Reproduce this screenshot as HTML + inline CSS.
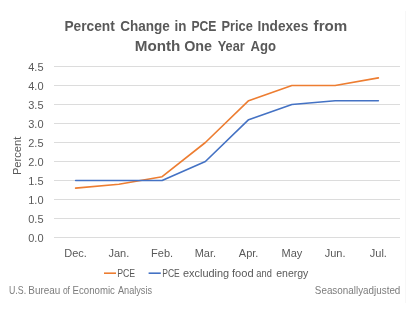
<!DOCTYPE html>
<html><head><meta charset="utf-8"><style>
html,body{margin:0;padding:0;background:#fff;}
body{width:411px;height:309px;overflow:hidden;}
svg{display:block;will-change:transform;font-family:"Liberation Sans",sans-serif;}
</style></head><body>
<svg width="411" height="309" viewBox="0 0 411 309">
<rect width="411" height="309" fill="#fff"/>
<line x1="405.5" x2="405.5" y1="11" y2="303" stroke="#F7F7F7" stroke-width="1"/>
<g fill="#595959" font-weight="bold" font-size="14">
<text x="64.42" y="31.2" textLength="50.43" lengthAdjust="spacingAndGlyphs">Percent</text>
<text x="120.23" y="31.2" textLength="49.60" lengthAdjust="spacingAndGlyphs">Change</text>
<text x="174.55" y="31.2" textLength="11.89" lengthAdjust="spacingAndGlyphs">in</text>
<text x="191.43" y="31.2" textLength="24.96" lengthAdjust="spacingAndGlyphs">PCE</text>
<text x="221.48" y="31.2" textLength="31.34" lengthAdjust="spacingAndGlyphs">Price</text>
<text x="257.42" y="31.2" textLength="50.91" lengthAdjust="spacingAndGlyphs">Indexes</text>
<text x="313.60" y="31.2" textLength="33.61" lengthAdjust="spacingAndGlyphs">from</text>
<text x="134.71" y="51.2" textLength="45.66" lengthAdjust="spacingAndGlyphs">Month</text>
<text x="184.18" y="51.2" textLength="27.86" lengthAdjust="spacingAndGlyphs">One</text>
<text x="217.80" y="51.2" textLength="27.03" lengthAdjust="spacingAndGlyphs">Year</text>
<text x="250.50" y="51.2" textLength="25.50" lengthAdjust="spacingAndGlyphs">Ago</text>
</g>
<g stroke="#DCDCDC" stroke-width="1"><line x1="54" x2="400" y1="237.50" y2="237.50"/><line x1="54" x2="400" y1="218.50" y2="218.50"/><line x1="54" x2="400" y1="199.50" y2="199.50"/><line x1="54" x2="400" y1="180.50" y2="180.50"/><line x1="54" x2="400" y1="161.50" y2="161.50"/><line x1="54" x2="400" y1="142.50" y2="142.50"/><line x1="54" x2="400" y1="123.50" y2="123.50"/><line x1="54" x2="400" y1="104.50" y2="104.50"/><line x1="54" x2="400" y1="85.50" y2="85.50"/><line x1="54" x2="400" y1="66.50" y2="66.50"/></g>
<g fill="#595959" font-size="11" text-anchor="end"><text x="43.5" y="241.70">0.0</text><text x="43.5" y="222.70">0.5</text><text x="43.5" y="203.70">1.0</text><text x="43.5" y="184.70">1.5</text><text x="43.5" y="165.70">2.0</text><text x="43.5" y="146.70">2.5</text><text x="43.5" y="127.70">3.0</text><text x="43.5" y="108.70">3.5</text><text x="43.5" y="89.70">4.0</text><text x="43.5" y="70.70">4.5</text></g>
<g fill="#595959" font-size="11" text-anchor="middle"><text x="75.62" y="257">Dec.</text><text x="118.88" y="257">Jan.</text><text x="162.12" y="257">Feb.</text><text x="205.38" y="257">Mar.</text><text x="248.62" y="257">Apr.</text><text x="291.88" y="257">May</text><text x="335.12" y="257">Jun.</text><text x="378.38" y="257">Jul.</text></g>
<text transform="translate(20.8,155.85) rotate(-90)" fill="#595959" font-size="10.8" text-anchor="middle" textLength="38.5" lengthAdjust="spacingAndGlyphs">Percent</text>
<polyline fill="none" stroke="#ED7D31" stroke-width="1.6" stroke-linejoin="round" stroke-linecap="round" points="75.62,188.10 118.88,184.30 162.12,176.70 205.38,142.50 248.62,100.70 291.88,85.50 335.12,85.50 378.38,77.90"/>
<polyline fill="none" stroke="#4472C4" stroke-width="1.6" stroke-linejoin="round" stroke-linecap="round" points="75.62,180.50 118.88,180.50 162.12,180.50 205.38,161.50 248.62,119.70 291.88,104.50 335.12,100.70 378.38,100.70"/>
<line x1="104" x2="116" y1="273.2" y2="273.2" stroke="#ED7D31" stroke-width="1.6"/>
<line x1="148.6" x2="160.8" y1="273.2" y2="273.2" stroke="#4472C4" stroke-width="1.6"/>
<g fill="#595959" font-size="11">
<text x="117.20" y="277" textLength="17.99" lengthAdjust="spacingAndGlyphs">PCE</text>
<text x="162.22" y="277" textLength="17.56" lengthAdjust="spacingAndGlyphs">PCE</text>
<text x="183.00" y="277" textLength="46.18" lengthAdjust="spacingAndGlyphs">excluding</text>
<text x="232.00" y="277" textLength="21.63" lengthAdjust="spacingAndGlyphs">food</text>
<text x="256.30" y="277" textLength="15.50" lengthAdjust="spacingAndGlyphs">and</text>
<text x="276.20" y="277" textLength="32.16" lengthAdjust="spacingAndGlyphs">energy</text>
</g>
<g fill="#7C7C7C" font-size="10.2">
<text x="9.04" y="294.2" textLength="17.07" lengthAdjust="spacingAndGlyphs">U.S.</text>
<text x="28.33" y="294.2" textLength="32.01" lengthAdjust="spacingAndGlyphs">Bureau</text>
<text x="62.90" y="294.2" textLength="7.08" lengthAdjust="spacingAndGlyphs">of</text>
<text x="72.55" y="294.2" textLength="42.34" lengthAdjust="spacingAndGlyphs">Economic</text>
<text x="118.00" y="294.2" textLength="34.04" lengthAdjust="spacingAndGlyphs">Analysis</text>
<text x="314.83" y="294.2" textLength="85.52" lengthAdjust="spacingAndGlyphs">Seasonallyadjusted</text>
</g>
</svg>
</body></html>
